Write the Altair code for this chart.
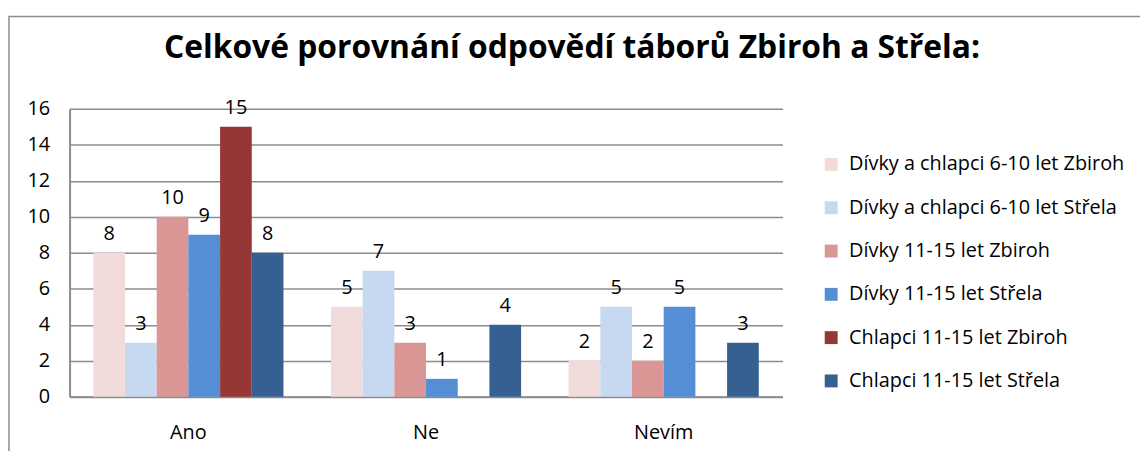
import altair as alt
import pandas as pd

categories = ["Ano", "Ne", "Nevím"]
series = [
    "Dívky a chlapci 6-10 let Zbiroh",
    "Dívky a chlapci 6-10 let Střela",
    "Dívky 11-15 let Zbiroh",
    "Dívky 11-15 let Střela",
    "Chlapci 11-15 let Zbiroh",
    "Chlapci 11-15 let Střela",
]
values_ano = [8, 3, 10, 9, 15, 8]
values_ne = [5, 7, 3, 1, None, 4]
values_nevim = [2, 5, 2, 5, None, 3]
colors = ["#F2DCDB", "#C6D9F1", "#D99694", "#558ED5", "#953735", "#376092"]
y_ticks = [0, 2, 4, 6, 8, 10, 12, 14, 16]
title_text = "Celkové porovnání odpovědí táborů Zbiroh a Střela:"

rows = []
for cat, vals in zip(categories, [values_ano, values_ne, values_nevim]):
    for s, v in zip(series, vals):
        if v is not None:
            rows.append({"cat": cat, "series": s, "value": v})
df = pd.DataFrame(rows)

FONT = "Open Sans"
FS = 20

base = alt.Chart(df).encode(
    x=alt.X(
        "cat:N",
        sort=categories,
        scale=alt.Scale(domain=categories, paddingInner=0.2, paddingOuter=0.1),
        axis=alt.Axis(
            title=None, labelAngle=0, ticks=False, domainColor="#8c8c8c",
            domainWidth=2, labelFontSize=FS, labelPadding=26, labelFont=FONT,
            labelColor="#000", grid=False,
        ),
    ),
    xOffset=alt.XOffset(
        "series:N", sort=series,
        scale=alt.Scale(domain=series, paddingInner=0, paddingOuter=0),
    ),
    y=alt.Y(
        "value:Q",
        scale=alt.Scale(domain=[0, 16], nice=False),
        axis=alt.Axis(
            values=y_ticks, title=None, ticks=False, domainColor="#8c8c8c",
            domainWidth=2, gridColor="#8c8c8c", gridWidth=1.5,
            labelPadding=20, labelFontSize=FS, labelFont=FONT, labelColor="#000",
            labelOverlap=False, labelFlush=False,
        ),
    ),
)

bars = base.mark_bar().encode(
    color=alt.Color(
        "series:N",
        sort=series,
        scale=alt.Scale(domain=series, range=colors),
        legend=alt.Legend(
            title=None, orient="none", legendX=757, legendY=46,
            symbolType="square", symbolSize=169, symbolStrokeWidth=0,
            labelFontSize=FS, labelFont=FONT, labelColor="#000",
            rowPadding=23.6, padding=0, labelOffset=8,
            labelLimit=400,
        ),
    ),
)

labels = base.mark_text(
    dy=-13, baseline="alphabetic", fontSize=FS, font=FONT, color="#000"
).encode(text="value:Q")

border = alt.Chart(pd.DataFrame({"a": [0]})).mark_rect(
    fillOpacity=0, stroke="#8c8c8c", strokeWidth=1.5
).encode(
    x=alt.value(-61), x2=alt.value(1100), y=alt.value(-93), y2=alt.value(400)
)

title = alt.Chart(pd.DataFrame({"t": [title_text]})).mark_text(
    font=FONT, fontSize=32, fontWeight="bold", color="#000",
    align="center", baseline="alphabetic",
).encode(text="t:N", x=alt.value(506), y=alt.value(-51))

chart = (
    alt.layer(border, bars, labels, title)
    .properties(
        width=718,
        height=290,
        autosize=alt.AutoSizeParams(type="none"),
        padding={"left": 62, "top": 100, "right": 360, "bottom": 53},
    )
    .configure_view(stroke=None)
)

chart.save("out.html", embed_options={"renderer": "svg", "actions": False})
